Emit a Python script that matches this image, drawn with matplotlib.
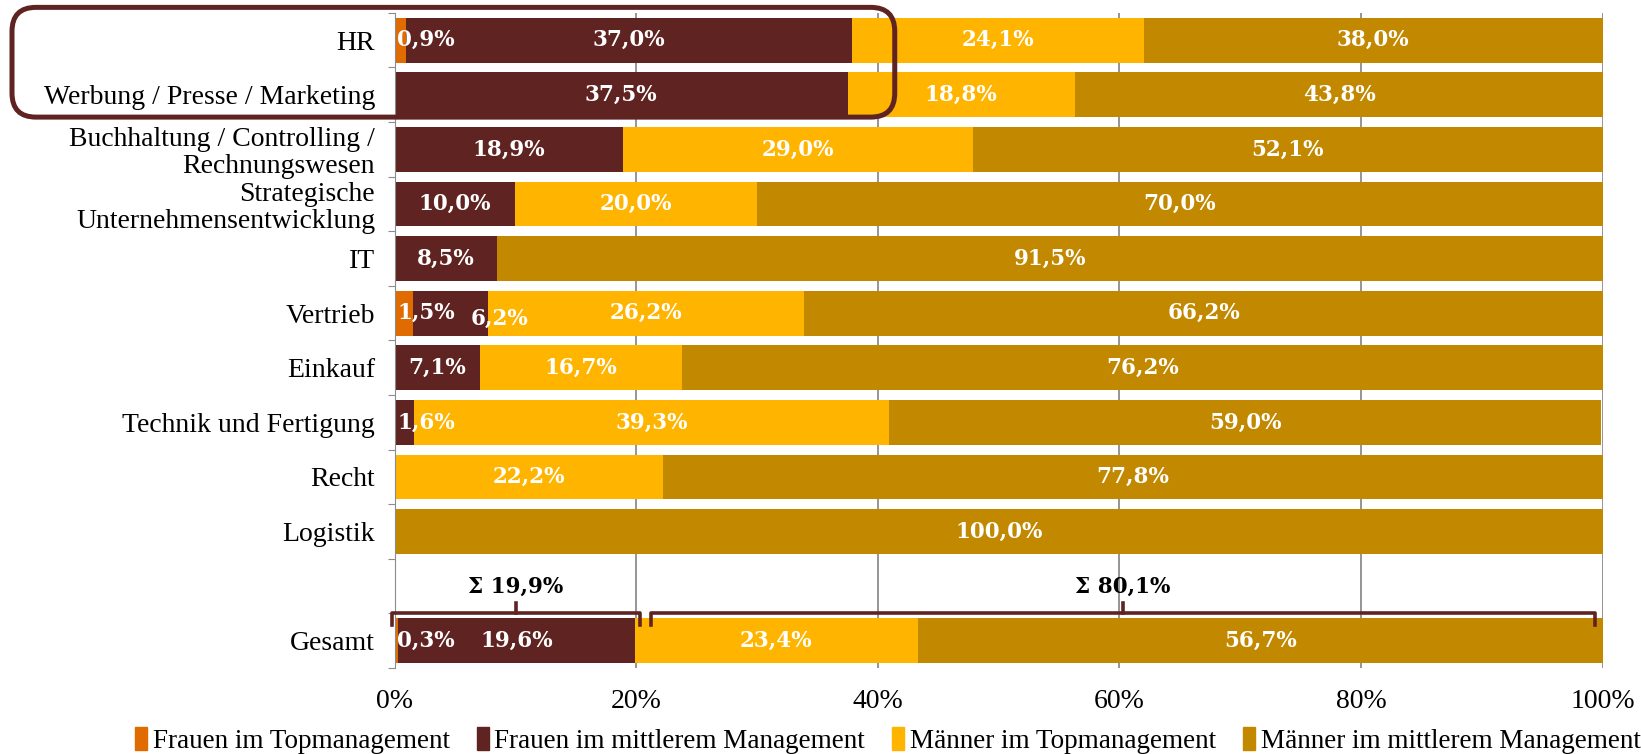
import numpy as np
import matplotlib
matplotlib.use('Agg')
import matplotlib.pyplot as plt
from matplotlib.patches import Patch, FancyBboxPatch
from matplotlib.transforms import IdentityTransform

categories = ['HR', 'Werbung / Presse / Marketing',
              'Buchhaltung / Controlling /\nRechnungswesen',
              'Strategische\nUnternehmensentwicklung', 'IT', 'Vertrieb',
              'Einkauf', 'Technik und Fertigung', 'Recht', 'Logistik', '',
              'Gesamt']
frauen_top = [0.9, 0, 0, 0, 0, 1.5, 0, 0, 0, 0, 0, 0.3]
frauen_mid = [37.0, 37.5, 18.9, 10.0, 8.5, 6.2, 7.1, 1.6, 0, 0, 0, 19.6]
maenner_top = [24.1, 18.8, 29.0, 20.0, 0, 26.2, 16.7, 39.3, 22.2, 0, 0, 23.4]
maenner_mid = [38.0, 43.8, 52.1, 70.0, 91.5, 66.2, 76.2, 59.0, 77.8, 100.0, 0, 56.7]
series_names = ['Frauen im Topmanagement', 'Frauen im mittlerem Management',
                'Männer im Topmanagement', 'Männer im mittlerem Management']
colors = ['#E06B00', '#5F2321', '#FFB400', '#C18800']
xticks = [0, 20, 40, 60, 80, 100]

label_font = 'Liberation Serif'
value_font = 'DejaVu Serif'
dark = '#5F2321'

def fmt(v):
    return f"{v:.1f}%".replace('.', ',')

fig = plt.figure(figsize=(16.41, 7.54), dpi=100)
ax = fig.add_axes([0.2405, 0.114, 0.7361, 0.869])

series = [frauen_top, frauen_mid, maenner_top, maenner_mid]
y = np.arange(len(categories))
left = np.zeros(len(categories))
for vals, c, name in zip(series, colors, series_names):
    vals = np.array(vals)
    ax.barh(y, vals, left=left, height=0.82, color=c, label=name, zorder=2)
    left += vals

ax.set_xlim(0, 100)
ax.set_ylim(len(categories) - 0.5, -0.5)
ax.set_xticks(xticks)
ax.set_xticklabels([f"{t}%" for t in xticks], family=label_font, fontsize=20)
ax.tick_params(axis='x', length=0, pad=15)
ax.set_yticks(np.arange(-0.5, len(categories), 1))
ax.set_yticklabels([])
ax.set_yticks(y, minor=True)
ax.set_yticklabels(categories, minor=True, family=label_font, fontsize=20,
                   linespacing=1.1)
ax.tick_params(axis='y', which='major', length=5, color='#8c8c8c')
ax.tick_params(axis='y', which='minor', length=0, pad=14)
ax.xaxis.grid(True, color='#8c8c8c', lw=1.3)
ax.set_axisbelow(True)
for s in ['top', 'right', 'bottom']:
    ax.spines[s].set_visible(False)
ax.spines['left'].set_color('#8c8c8c')

# value labels, pushed right when they do not fit
r = fig.canvas.get_renderer()
inv = ax.transData.inverted()

def data_width(t):
    bb = t.get_window_extent(renderer=r)
    return inv.transform((bb.x1, 0))[0] - inv.transform((bb.x0, 0))[0]

for i in range(len(categories)):
    start = 0.0
    limit = 0.2
    for vals in series:
        v = vals[i]
        if v > 0:
            t = ax.text(start + v / 2, i, fmt(v), ha='center', va='center',
                        color='white', fontweight='bold', fontsize=15.5,
                        family=value_font, zorder=4)
            w = data_width(t)
            if start + v / 2 - w / 2 < limit:
                t.set_x(limit + w / 2)
                if limit > 0.2:
                    t.set_y(i + 0.1)
            limit = t.get_position()[0] + w / 2 + 1.3
        start += v

# brackets over Gesamt
g = len(categories) - 1
sum_f = frauen_top[g] + frauen_mid[g]
sum_m = maenner_top[g] + maenner_mid[g]
line_y = g - 0.5
for x0, x1, total in [(-0.2, sum_f + 0.4, sum_f), (sum_f + 1.3, 99.4, sum_m)]:
    xm = (x0 + x1) / 2
    ax.plot([x0, x0, x1, x1], [line_y + 0.22, line_y, line_y, line_y + 0.22],
            color=dark, lw=2.6, clip_on=False, zorder=5, solid_joinstyle='round')
    ax.plot([xm, xm], [line_y, line_y - 0.2], color=dark, lw=2.6,
            clip_on=False, zorder=5)
    ax.text(xm, g - 0.98, "Σ " + fmt(total), ha='center', va='center',
            fontweight='bold', fontsize=15.5, family=value_font, zorder=5)

# rounded highlight box around HR and Werbung
box_right = max(frauen_top[0] + frauen_mid[0], frauen_top[1] + frauen_mid[1]) + 3.5
x_r = ax.transData.transform((box_right, 0))[0]
y_t = ax.transData.transform((0, -0.6))[1]
y_b = ax.transData.transform((0, 1.41))[1]
x_l = 12
box = FancyBboxPatch((x_l, y_b), x_r - x_l, y_t - y_b,
                     boxstyle='round,pad=0,rounding_size=24',
                     transform=IdentityTransform(), fill=False,
                     ec=dark, lw=3.6, zorder=10)
fig.add_artist(box)

handles = [Patch(color=c, label=n) for c, n in zip(colors, series_names)]
fig.legend(handles=handles, loc='center', bbox_to_anchor=(0.541, 0.018),
           ncol=4, frameon=False, prop={'family': label_font, 'size': 19.5},
           handlelength=0.45, handleheight=0.9, handletextpad=0.2,
           columnspacing=1.0)

fig.savefig('out.png', dpi=100)
